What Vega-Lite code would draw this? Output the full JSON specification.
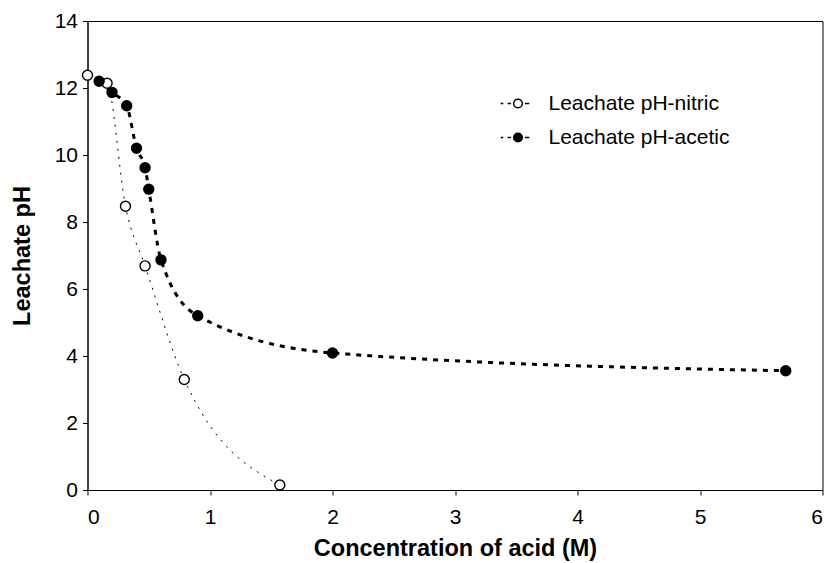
{
  "$schema": "https://vega.github.io/schema/vega-lite/v6.json",
  "autosize": "none",
  "width": 735,
  "height": 469,
  "padding": {"left": 87.5, "top": 21, "right": 5.5, "bottom": 73},
  "background": "white",
  "config": {
    "view": {"stroke": "black", "strokeWidth": 1},
    "font": "Liberation Sans"
  },
  "data": {
    "values": [
      {"series": "Leachate pH-nitric", "conc": 0.0, "ph": 12.38},
      {"series": "Leachate pH-nitric", "conc": 0.16, "ph": 12.14},
      {"series": "Leachate pH-nitric", "conc": 0.31, "ph": 8.47},
      {"series": "Leachate pH-nitric", "conc": 0.47, "ph": 6.69},
      {"series": "Leachate pH-nitric", "conc": 0.79, "ph": 3.3},
      {"series": "Leachate pH-nitric", "conc": 1.57, "ph": 0.15},
      {"series": "Leachate pH-acetic", "conc": 0.095, "ph": 12.2},
      {"series": "Leachate pH-acetic", "conc": 0.2, "ph": 11.87},
      {"series": "Leachate pH-acetic", "conc": 0.32, "ph": 11.47},
      {"series": "Leachate pH-acetic", "conc": 0.4, "ph": 10.2},
      {"series": "Leachate pH-acetic", "conc": 0.47, "ph": 9.62},
      {"series": "Leachate pH-acetic", "conc": 0.5, "ph": 8.98},
      {"series": "Leachate pH-acetic", "conc": 0.6, "ph": 6.87},
      {"series": "Leachate pH-acetic", "conc": 0.9, "ph": 5.2},
      {"series": "Leachate pH-acetic", "conc": 2.0, "ph": 4.09},
      {"series": "Leachate pH-acetic", "conc": 5.7, "ph": 3.56}
    ]
  },
  "encoding": {
    "x": {
      "field": "conc", "type": "quantitative",
      "scale": {"domain": [0, 6], "nice": false, "zero": false},
      "axis": {
        "title": "Concentration of acid (M)", "values": [0,1,2,3,4,5,6],
        "grid": false, "labelOverlap": false,
        "domainColor": "black", "tickColor": "black", "tickSize": 5,
        "labelColor": "black", "labelFont": "Liberation Sans", "labelFontSize": 21,
        "titleFont": "Liberation Sans", "titleFontSize": 23.5, "titleFontWeight": "bold", "titleColor": "black",
        "labelPadding": 11, "titlePadding": 9
      }
    },
    "y": {
      "field": "ph", "type": "quantitative",
      "scale": {"domain": [0, 14], "nice": false},
      "axis": {
        "title": "Leachate pH", "values": [0,2,4,6,8,10,12,14],
        "grid": false, "labelOverlap": false,
        "domainColor": "black", "tickColor": "black", "tickSize": 5,
        "labelColor": "black", "labelFont": "Liberation Sans", "labelFontSize": 21,
        "titleFont": "Liberation Sans", "titleFontSize": 23.5, "titleFontWeight": "bold", "titleColor": "black",
        "labelPadding": 5, "titlePadding": 20
      }
    }
  },
  "layer": [
    {
      "transform": [{"filter": "datum.series === 'Leachate pH-nitric'"}],
      "mark": {"type": "line", "interpolate": "monotone", "color": "black", "strokeWidth": 1, "strokeDash": [2, 6]},
      "encoding": {}
    },
    {
      "transform": [{"filter": "datum.series === 'Leachate pH-acetic'"}],
      "mark": {"type": "line", "interpolate": "monotone", "color": "black", "strokeWidth": 3, "strokeDash": [5, 6]},
      "encoding": {}
    },
    {
      "mark": {"type": "point", "shape": "circle", "size": 100, "stroke": "black", "strokeWidth": 1.4, "opacity": 1},
      "encoding": {
        "fill": {
          "field": "series", "type": "nominal",
          "scale": {"domain": ["Leachate pH-nitric", "Leachate pH-acetic"], "range": ["white", "black"]},
          "legend": {
            "title": null,
            "orient": "none",
            "legendX": 412,
            "legendY": 64,
            "symbolType": "M-1,0H-0.85M-0.6,0H-0.4M0.25,0A0.25,0.25 0 1,1 -0.25,0A0.25,0.25 0 1,1 0.25,0M0.4,0H0.65",
            "symbolSize": 1200,
            "symbolStrokeColor": "black",
            "symbolStrokeWidth": 1.5,
            "symbolOpacity": 1,
            "labelFontSize": 21,
            "labelLimit": 400,
            "labelFont": "Liberation Sans",
            "labelColor": "black",
            "labelOffset": 12,
            "rowPadding": 5
          }
        }
      }
    }
  ]
}
